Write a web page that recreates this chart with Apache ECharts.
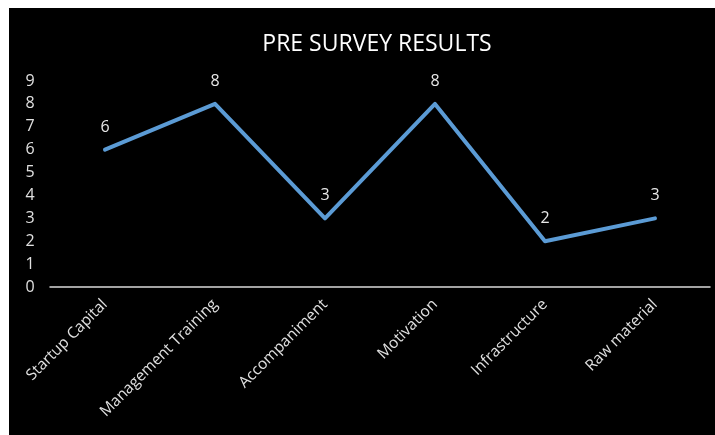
<!DOCTYPE html>
<html><head><meta charset="utf-8">
<script src="https://cdn.jsdelivr.net/npm/echarts@6/dist/echarts.min.js"></script>
<style>html,body{margin:0;padding:0;background:#fff;}#c{width:715px;height:435px;}</style>
</head><body><div id="c"></div>
<script>
const title = 'PRE SURVEY RESULTS';
const categories = ['Startup Capital','Management Training','Accompaniment','Motivation','Infrastructure','Raw material'];
const values = [6, 8, 3, 8, 2, 3];
const yMin = 0, yMax = 9, yStep = 1;

const chart = echarts.init(document.getElementById('c'), null, {renderer:'canvas'});
chart.setOption({
  backgroundColor: '#ffffff',
  animation: false,
  graphic: [{type:'rect', left: 9, top: 8, shape:{width: 706, height: 427}, style:{fill:'#000000'}, z: -10}],
  title: {text: title, left: 372, top: 28, textAlign: 'center',
    textStyle:{color:'#ffffff', fontFamily:'Open Sans', fontWeight:'normal', fontSize: 23}},
  grid: {left: 50, right: 5, top: 81, bottom: 148, containLabel: false},
  xAxis: {type:'category', data: categories, boundaryGap: true,
    axisLine:{show:true, lineStyle:{color:'#d9d9d9', width:1.5}},
    axisTick:{show:false},
    axisLabel:{rotate:45, margin:15, color:'#e0e0e0', fontFamily:'Open Sans', fontSize:15.5, interval:0},
    splitLine:{show:false}},
  yAxis: {type:'value', min: yMin, max: yMax, interval: yStep,
    axisLine:{show:false}, axisTick:{show:false}, splitLine:{show:false},
    axisLabel:{color:'#e0e0e0', fontFamily:'Open Sans', fontSize:16, margin:20, align:'center'}},
  series: [{type:'line', data: values, showSymbol:true, symbol:'circle', symbolSize: 1,
    itemStyle:{color:'#5b9bd5'},
    lineStyle:{color:'#5b9bd5', width:4, cap:'round', join:'round'},
    label:{show:true, position:'top', distance:14, color:'#e8e8e8', fontFamily:'Open Sans', fontSize:16}}]
});
</script></body></html>
